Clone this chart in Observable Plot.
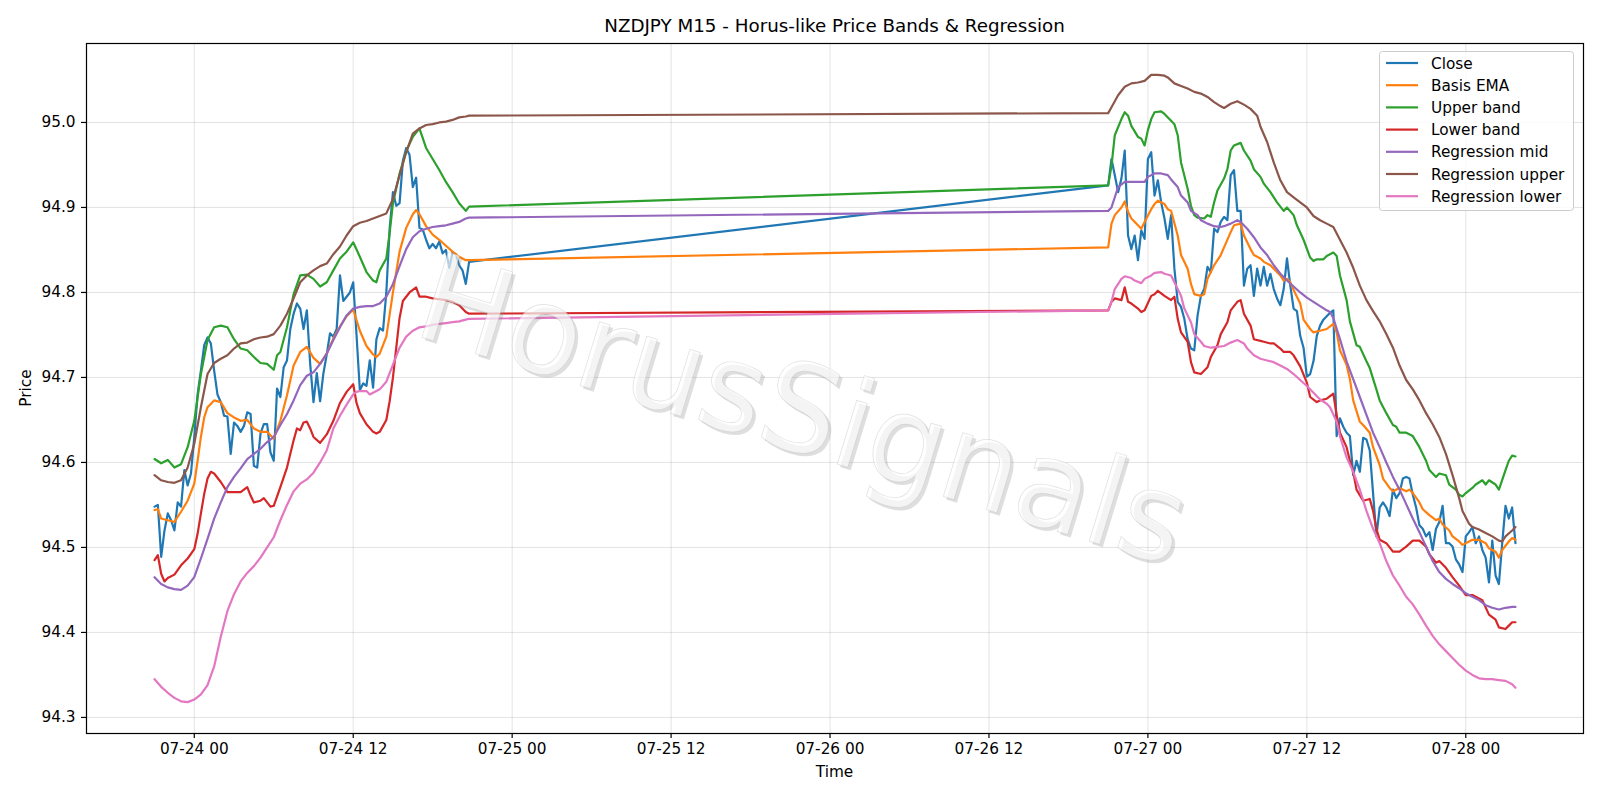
<!DOCTYPE html>
<html><head><meta charset="utf-8">
<script src="https://cdn.jsdelivr.net/npm/d3@7"></script>
<script src="https://cdn.jsdelivr.net/npm/@observablehq/plot@0.6"></script>
<style>body{margin:0;background:#fff}#chart{width:1600px;height:800px}</style>
</head><body><div id="chart"></div>
<script>
// ---- data (15-minute bars; session A starts 07-23 21:00, session B starts 07-26 21:00 UTC) ----
const startA = "2020-07-23T21:00:00Z";
const startB = "2020-07-26T21:00:00Z";
const seriesNames = ["Close","Basis EMA","Upper band","Lower band","Regression mid","Regression upper","Regression lower"];
const seriesColors = ["#1f77b4","#ff7f0e","#2ca02c","#d62728","#9467bd","#8c564b","#e377c2"];
const xTickLabels = ["2020-07-24T00:00Z","2020-07-24T12:00Z","2020-07-25T00:00Z","2020-07-25T12:00Z","2020-07-26T00:00Z","2020-07-26T12:00Z","2020-07-27T00:00Z","2020-07-27T12:00Z","2020-07-28T00:00Z"];
const yTickValues = [94.3,94.4,94.5,94.6,94.7,94.8,94.9,95.0];

const closeA = [94.548,94.550,94.489,94.520,94.540,94.532,94.520,94.553,94.548,94.591,
 94.573,94.587,94.630,94.680,94.708,94.738,94.747,94.740,94.708,94.680,
 94.671,94.655,94.654,94.610,94.647,94.643,94.636,94.643,94.659,94.657,
 94.596,94.594,94.634,94.645,94.645,94.612,94.602,94.687,94.677,94.712,
 94.720,94.757,94.775,94.787,94.781,94.757,94.779,94.716,94.671,94.705,
 94.672,94.705,94.727,94.752,94.748,94.757,94.820,94.790,94.795,94.800,
 94.812,94.750,94.685,94.693,94.690,94.720,94.688,94.745,94.758,94.755,
 94.800,94.875,94.918,94.902,94.905,94.955,94.970,94.962,94.924,94.935,
 94.876,94.874,94.862,94.852,94.857,94.852,94.860,94.846,94.850,94.829,
 94.847,94.845,94.832,94.826,94.810,94.836];
const closeB = [94.926,94.957,94.938,94.918,94.934,94.967,94.867,94.851,94.867,94.838,
 94.873,94.863,94.957,94.965,94.914,94.932,94.906,94.887,94.863,94.891,
 94.828,94.789,94.783,94.769,94.745,94.734,94.732,94.773,94.796,94.804,
 94.830,94.824,94.875,94.871,94.883,94.889,94.885,94.938,94.944,94.896,
 94.896,94.808,94.828,94.832,94.796,94.828,94.808,94.830,94.808,94.822,
 94.804,94.793,94.785,94.804,94.840,94.808,94.781,94.778,94.749,94.735,
 94.701,94.704,94.719,94.749,94.761,94.768,94.772,94.776,94.779,94.631,
 94.652,94.642,94.635,94.631,94.585,94.602,94.589,94.629,94.627,94.614,
 94.564,94.513,94.547,94.553,94.547,94.537,94.568,94.558,94.564,94.581,
 94.583,94.581,94.562,94.547,94.526,94.522,94.513,94.518,94.497,94.522,
 94.530,94.549,94.505,94.505,94.501,94.486,94.480,94.471,94.513,94.518,
 94.524,94.505,94.513,94.497,94.488,94.459,94.508,94.467,94.457,94.505,
 94.549,94.534,94.547,94.505];

// smooth series: [bar index within session, value]
const emaA = [[0,94.544],[1,94.545],[2,94.534],[4,94.532],[6,94.530],[8,94.542],[10,94.555],[12,94.575],[13,94.602],[14,94.630],[15,94.653],[16,94.665],[18,94.673],[20,94.671],[22,94.658],[24,94.653],[26,94.649],[28,94.650],[30,94.640],[32,94.636],[34,94.636],[36,94.628],[38,94.649],[40,94.679],[42,94.714],[44,94.730],[46,94.736],[48,94.723],[50,94.716],[52,94.728],[54,94.746],[56,94.760],[58,94.772],[60,94.780],[62,94.755],[64,94.737],[66,94.727],[67,94.724],[68,94.728],[70,94.748],[72,94.800],[74,94.848],[76,94.876],[78,94.892],[79,94.897],[80,94.892],[82,94.878],[84,94.868],[86,94.862],[88,94.855],[90,94.848],[92,94.842],[94,94.838],[95,94.838]];
const emaB = [[0,94.853],[1,94.881],[2,94.891],[4,94.900],[5,94.907],[6,94.895],[7,94.887],[9,94.879],[10,94.875],[11,94.883],[13,94.898],[14,94.904],[15,94.908],[17,94.904],[18,94.898],[19,94.896],[21,94.867],[22,94.844],[24,94.828],[25,94.810],[26,94.798],[28,94.796],[29,94.798],[30,94.816],[32,94.832],[34,94.844],[35,94.853],[37,94.871],[38,94.879],[40,94.881],[41,94.867],[43,94.851],[44,94.844],[46,94.840],[47,94.836],[49,94.832],[50,94.828],[52,94.820],[53,94.814],[54,94.816],[55,94.812],[56,94.803],[58,94.787],[59,94.768],[61,94.757],[62,94.753],[64,94.755],[66,94.757],[68,94.763],[69,94.753],[70,94.732],[72,94.715],[73,94.698],[74,94.673],[76,94.648],[77,94.644],[79,94.635],[80,94.618],[82,94.597],[83,94.581],[85,94.570],[86,94.566],[88,94.570],[90,94.566],[91,94.568],[92,94.564],[94,94.553],[95,94.545],[97,94.538],[99,94.532],[100,94.534],[101,94.527],[103,94.520],[104,94.513],[106,94.507],[107,94.503],[109,94.507],[110,94.509],[112,94.509],[114,94.505],[115,94.499],[117,94.495],[118,94.488],[119,94.497],[121,94.507],[122,94.511],[123,94.509]];

const upperA = [[0,94.604],[2,94.599],[4,94.603],[6,94.594],[8,94.598],[10,94.618],[12,94.649],[14,94.704],[16,94.744],[18,94.759],[20,94.761],[22,94.759],[24,94.745],[26,94.734],[28,94.732],[30,94.724],[32,94.717],[34,94.716],[36,94.709],[37,94.726],[38,94.730],[40,94.759],[42,94.798],[44,94.820],[46,94.821],[48,94.816],[50,94.807],[52,94.812],[54,94.826],[56,94.840],[58,94.848],[60,94.859],[62,94.842],[64,94.824],[66,94.814],[67,94.812],[68,94.826],[70,94.840],[71,94.870],[72,94.905],[74,94.940],[76,94.966],[78,94.983],[80,94.993],[82,94.970],[84,94.957],[86,94.944],[88,94.930],[90,94.918],[92,94.905],[94,94.896],[95,94.901]];
const upperB = [[0,94.926],[1,94.949],[2,94.985],[4,95.004],[5,95.012],[6,95.008],[7,94.996],[9,94.983],[10,94.981],[11,94.973],[12,94.991],[13,95.004],[14,95.012],[16,95.013],[17,95.010],[19,95.002],[20,94.998],[21,94.985],[22,94.953],[24,94.922],[25,94.902],[26,94.891],[27,94.888],[29,94.887],[30,94.891],[31,94.889],[32,94.906],[33,94.920],[35,94.934],[36,94.945],[37,94.967],[38,94.973],[40,94.976],[41,94.967],[43,94.955],[44,94.945],[46,94.936],[47,94.928],[49,94.918],[51,94.906],[53,94.896],[54,94.900],[56,94.891],[57,94.879],[59,94.862],[61,94.841],[62,94.837],[63,94.839],[65,94.839],[66,94.843],[68,94.847],[69,94.843],[70,94.820],[72,94.791],[73,94.766],[75,94.738],[76,94.736],[78,94.719],[79,94.711],[81,94.686],[82,94.673],[84,94.658],[86,94.644],[87,94.642],[88,94.635],[90,94.635],[92,94.631],[94,94.618],[96,94.602],[97,94.591],[99,94.583],[100,94.587],[102,94.585],[103,94.574],[105,94.568],[106,94.562],[107,94.560],[108,94.564],[110,94.570],[111,94.574],[113,94.579],[114,94.574],[115,94.579],[117,94.574],[118,94.568],[120,94.591],[121,94.602],[122,94.608],[123,94.607]];

const lowerA = [[0,94.485],[1,94.491],[2,94.469],[3,94.460],[4,94.464],[6,94.468],[8,94.479],[10,94.487],[12,94.498],[13,94.516],[14,94.540],[15,94.563],[16,94.581],[17,94.589],[18,94.587],[20,94.577],[22,94.565],[24,94.565],[26,94.565],[28,94.571],[29,94.561],[30,94.553],[32,94.555],[33,94.558],[34,94.553],[35,94.548],[36,94.549],[38,94.571],[40,94.594],[42,94.626],[43,94.640],[44,94.638],[45,94.647],[46,94.648],[47,94.640],[48,94.630],[50,94.623],[52,94.633],[54,94.649],[56,94.670],[58,94.683],[60,94.692],[61,94.670],[62,94.658],[64,94.645],[66,94.636],[67,94.634],[68,94.636],[70,94.650],[71,94.672],[72,94.700],[73,94.735],[74,94.770],[75,94.790],[77,94.800],[79,94.806],[80,94.795],[82,94.795],[84,94.793],[86,94.792],[88,94.791],[90,94.789],[92,94.785],[94,94.777],[95,94.775]];
const lowerB = [[0,94.779],[1,94.789],[2,94.793],[4,94.791],[5,94.806],[6,94.789],[7,94.787],[9,94.781],[10,94.777],[11,94.779],[13,94.796],[14,94.798],[15,94.802],[17,94.796],[19,94.791],[20,94.795],[21,94.769],[22,94.753],[24,94.742],[25,94.718],[26,94.706],[28,94.704],[30,94.712],[31,94.724],[33,94.738],[34,94.751],[36,94.765],[37,94.779],[39,94.789],[40,94.791],[41,94.775],[43,94.761],[44,94.745],[46,94.743],[47,94.742],[49,94.740],[50,94.740],[52,94.734],[53,94.730],[55,94.730],[56,94.726],[58,94.713],[60,94.694],[61,94.677],[63,94.671],[64,94.673],[66,94.675],[68,94.681],[69,94.656],[70,94.635],[72,94.618],[73,94.602],[74,94.589],[75,94.568],[77,94.555],[79,94.557],[80,94.543],[81,94.522],[82,94.509],[84,94.505],[86,94.495],[88,94.495],[90,94.501],[92,94.508],[94,94.508],[96,94.501],[97,94.492],[99,94.482],[100,94.484],[102,94.476],[104,94.465],[106,94.455],[108,94.444],[110,94.444],[112,94.440],[113,94.438],[115,94.421],[117,94.415],[118,94.406],[120,94.404],[121,94.408],[122,94.412],[123,94.412]];

const regMidA = [[0,94.465],[2,94.457],[4,94.453],[6,94.451],[8,94.450],[10,94.455],[12,94.465],[14,94.487],[16,94.510],[18,94.534],[20,94.553],[22,94.571],[24,94.583],[26,94.593],[28,94.604],[30,94.610],[32,94.616],[34,94.624],[36,94.630],[38,94.644],[40,94.657],[42,94.673],[44,94.691],[46,94.702],[48,94.706],[50,94.716],[52,94.728],[54,94.744],[56,94.759],[58,94.773],[60,94.781],[62,94.783],[64,94.784],[66,94.784],[68,94.787],[70,94.795],[72,94.810],[74,94.831],[76,94.851],[78,94.865],[80,94.872],[82,94.875],[84,94.877],[86,94.878],[88,94.879],[90,94.881],[92,94.883],[94,94.887],[95,94.888]];
const regMidB = [[0,94.896],[1,94.900],[2,94.912],[3,94.924],[5,94.930],[7,94.930],[9,94.930],[11,94.930],[12,94.936],[14,94.940],[16,94.940],[18,94.938],[19,94.933],[21,94.924],[22,94.914],[24,94.906],[25,94.896],[27,94.891],[28,94.885],[30,94.881],[32,94.878],[34,94.877],[35,94.878],[37,94.881],[39,94.885],[40,94.883],[42,94.875],[44,94.865],[46,94.853],[48,94.844],[50,94.832],[52,94.822],[54,94.814],[56,94.807],[58,94.800],[60,94.794],[62,94.789],[64,94.784],[66,94.779],[67,94.777],[68,94.770],[70,94.745],[72,94.719],[74,94.698],[76,94.677],[78,94.656],[80,94.635],[82,94.618],[84,94.600],[86,94.583],[88,94.568],[90,94.551],[92,94.534],[94,94.518],[96,94.501],[98,94.484],[100,94.471],[102,94.463],[104,94.457],[106,94.452],[108,94.446],[110,94.442],[112,94.438],[114,94.432],[116,94.429],[118,94.427],[120,94.429],[122,94.430],[123,94.430]];

const regUpA = [[0,94.585],[2,94.579],[4,94.577],[6,94.576],[8,94.579],[10,94.594],[12,94.622],[14,94.665],[16,94.704],[18,94.717],[20,94.722],[22,94.726],[24,94.734],[26,94.740],[28,94.741],[30,94.745],[32,94.747],[34,94.748],[36,94.751],[38,94.761],[40,94.775],[42,94.793],[44,94.812],[46,94.820],[48,94.826],[50,94.831],[52,94.834],[54,94.845],[56,94.854],[58,94.867],[60,94.878],[62,94.882],[64,94.884],[66,94.887],[68,94.890],[70,94.893],[72,94.910],[74,94.938],[76,94.965],[78,94.987],[80,94.993],[82,94.997],[84,94.998],[86,95.000],[88,95.001],[90,95.003],[92,95.006],[94,95.007],[95,95.008]];
const regUpB = [[0,95.011],[1,95.018],[3,95.032],[5,95.042],[7,95.046],[9,95.047],[11,95.049],[13,95.056],[15,95.056],[17,95.055],[18,95.053],[20,95.046],[22,95.043],[24,95.040],[26,95.036],[28,95.034],[30,95.030],[32,95.024],[34,95.019],[35,95.017],[37,95.022],[39,95.025],[41,95.021],[43,95.016],[45,95.008],[46,94.995],[48,94.977],[50,94.953],[52,94.932],[54,94.918],[56,94.912],[58,94.906],[60,94.900],[62,94.890],[64,94.885],[66,94.881],[68,94.877],[70,94.862],[72,94.847],[74,94.829],[76,94.808],[78,94.791],[80,94.778],[82,94.766],[84,94.751],[86,94.735],[88,94.714],[90,94.697],[92,94.686],[94,94.673],[96,94.658],[98,94.645],[100,94.630],[102,94.610],[104,94.585],[106,94.558],[107,94.543],[109,94.528],[110,94.524],[112,94.521],[114,94.517],[116,94.513],[118,94.508],[119,94.507],[120,94.513],[122,94.520],[123,94.524]];

const regLowA = [[0,94.345],[2,94.336],[4,94.329],[6,94.323],[8,94.319],[10,94.318],[12,94.321],[14,94.327],[16,94.338],[18,94.360],[20,94.395],[22,94.425],[24,94.445],[26,94.460],[28,94.470],[30,94.478],[32,94.488],[34,94.500],[36,94.512],[38,94.532],[40,94.550],[42,94.566],[44,94.575],[46,94.580],[48,94.588],[50,94.600],[52,94.614],[54,94.640],[56,94.655],[58,94.668],[60,94.680],[61,94.683],[62,94.684],[64,94.684],[65,94.680],[66,94.682],[68,94.686],[70,94.695],[72,94.715],[74,94.735],[76,94.748],[78,94.755],[80,94.759],[82,94.760],[84,94.762],[86,94.763],[88,94.764],[90,94.765],[92,94.766],[94,94.768],[95,94.769]];
const regLowB = [[0,94.779],[1,94.789],[2,94.804],[4,94.816],[5,94.819],[7,94.817],[8,94.814],[10,94.811],[11,94.816],[13,94.820],[14,94.823],[16,94.824],[17,94.822],[19,94.820],[20,94.812],[22,94.796],[23,94.781],[25,94.765],[26,94.751],[28,94.742],[29,94.737],[31,94.735],[33,94.736],[35,94.737],[37,94.741],[39,94.744],[41,94.740],[42,94.734],[44,94.726],[46,94.722],[48,94.720],[50,94.718],[52,94.714],[54,94.710],[56,94.704],[58,94.697],[60,94.690],[62,94.682],[64,94.674],[66,94.669],[67,94.665],[69,94.648],[70,94.631],[72,94.606],[74,94.589],[76,94.568],[78,94.543],[80,94.522],[82,94.505],[84,94.484],[86,94.467],[88,94.455],[90,94.442],[92,94.433],[94,94.421],[96,94.408],[98,94.396],[100,94.386],[102,94.378],[104,94.370],[106,94.362],[108,94.355],[110,94.350],[112,94.346],[114,94.345],[116,94.345],[118,94.344],[120,94.343],[122,94.339],[123,94.335]];

// ---- build table ----
const STEP = 15 * 60 * 1000;
const t0A = Date.parse(startA), t0B = Date.parse(startB);
const rows = [];
closeA.forEach((v, i) => rows.push({series: "Close", time: new Date(t0A + i * STEP), value: v}));
closeB.forEach((v, j) => rows.push({series: "Close", time: new Date(t0B + j * STEP), value: v}));
function addPairs(name, a, b) {
  a.forEach(([i, v]) => rows.push({series: name, time: new Date(t0A + i * STEP), value: v}));
  b.forEach(([j, v]) => rows.push({series: name, time: new Date(t0B + j * STEP), value: v}));
}
addPairs("Basis EMA", emaA, emaB);
addPairs("Upper band", upperA, upperB);
addPairs("Lower band", lowerA, lowerB);
addPairs("Regression mid", regMidA, regMidB);
addPairs("Regression upper", regUpA, regUpB);
addPairs("Regression lower", regLowA, regLowB);

// matplotlib-like 5% margins
const [tmin, tmax] = d3.extent(rows, d => +d.time);
const [vmin, vmax] = d3.extent(rows, d => d.value);
const tpad = (tmax - tmin) * 0.05, vpad = (vmax - vmin) * 0.05;
const xTicks = xTickLabels.map(s => new Date(s));
const fmtX = d3.utcFormat("%m-%d %H");
const FONT = "DejaVu Sans, Liberation Sans, sans-serif";

const chart = Plot.plot({
  width: 1600, height: 800,
  marginLeft: 86, marginRight: 17, marginTop: 43, marginBottom: 67,
  style: {fontFamily: FONT, fontSize: "15.3px", background: "white", color: "black", overflow: "visible"},
  x: {type: "utc", domain: [new Date(tmin - tpad), new Date(tmax + tpad)]},
  y: {domain: [vmin - vpad, vmax + vpad]},
  color: {domain: seriesNames, range: seriesColors},
  marks: [
    Plot.gridX(xTicks, {stroke: "#b0b0b0", strokeOpacity: 0.35, strokeWidth: 1}),
    Plot.gridY(yTickValues, {stroke: "#b0b0b0", strokeOpacity: 0.35, strokeWidth: 1}),
    Plot.line(rows, {x: "time", y: "value", z: "series", stroke: "series", strokeWidth: 2.2, strokeLinejoin: "round"}),
    Plot.frame({stroke: "black", strokeWidth: 1.2}),
    Plot.axisX(xTicks, {tickSize: 5, tickPadding: 5, tickFormat: fmtX, label: null, fontSize: 15.3, strokeWidth: 1.2}),
    Plot.axisY(yTickValues, {tickSize: 5, tickPadding: 6, tickFormat: d3.format(".1f"), label: null, fontSize: 15.3, strokeWidth: 1.2})
  ]
});
document.getElementById("chart").appendChild(chart);

const svg = d3.select(chart);
const cx = (86 + 1583) / 2;
// title and axis labels
svg.append("text").attr("x", cx).attr("y", 32).attr("text-anchor", "middle")
  .attr("font-family", FONT).attr("font-size", 18.3).attr("fill", "black")
  .text("NZDJPY M15 - Horus-like Price Bands & Regression");
svg.append("text").attr("x", cx).attr("y", 777).attr("text-anchor", "middle")
  .attr("font-family", FONT).attr("font-size", 15.3).attr("fill", "black").text("Time");
svg.append("text").attr("transform", "translate(31,388) rotate(-90)").attr("text-anchor", "middle")
  .attr("font-family", FONT).attr("font-size", 15.3).attr("fill", "black").text("Price");

// watermark
const WM = "HorusSignals";
svg.append("text").attr("transform", "translate(794,453) rotate(17)").attr("text-anchor", "middle")
  .attr("font-family", FONT).attr("font-size", 122).attr("fill", "#8a8a8a").attr("fill-opacity", 0.28).text(WM);
svg.append("text").attr("transform", "translate(791,450) rotate(17)").attr("text-anchor", "middle")
  .attr("font-family", FONT).attr("font-size", 122).attr("fill", "white").attr("fill-opacity", 0.65)
  .attr("stroke", "#c4c4c4").attr("stroke-opacity", 0.5).attr("stroke-width", 0.7).text(WM);

// legend
const lg = svg.append("g");
lg.append("rect").attr("x", 1379.5).attr("y", 51.5).attr("width", 194).attr("height", 159).attr("rx", 3)
  .attr("fill", "white").attr("fill-opacity", 0.8).attr("stroke", "#cccccc").attr("stroke-width", 1);
seriesNames.forEach((n, k) => {
  const y = 63 + 22.2 * k;
  lg.append("line").attr("x1", 1386).attr("x2", 1418).attr("y1", y).attr("y2", y)
    .attr("stroke", seriesColors[k]).attr("stroke-width", 2.2);
  lg.append("text").attr("x", 1431).attr("y", y).attr("dy", "0.36em").attr("text-anchor", "start")
    .attr("font-family", FONT).attr("font-size", 15.3).attr("fill", "black").text(n);
});
</script></body></html>
